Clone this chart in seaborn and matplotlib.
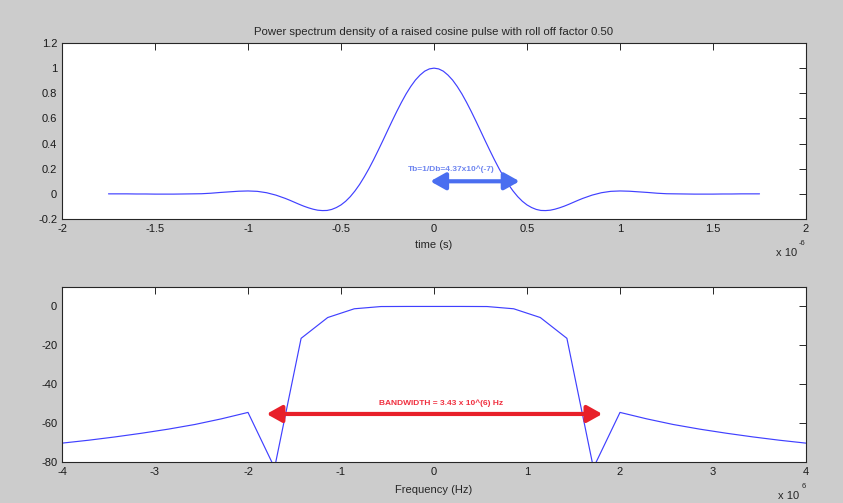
import matplotlib
matplotlib.use("Agg")
import matplotlib.pyplot as plt
import seaborn as sns
import pandas as pd

# ---------------- data ----------------
time_us = [-1.75, -1.70, -1.65, -1.60, -1.55, -1.50, -1.45, -1.40, -1.35, -1.30,
           -1.25, -1.20, -1.15, -1.10, -1.05, -1.00, -0.95, -0.90, -0.85, -0.80,
           -0.775, -0.75, -0.725, -0.70, -0.675, -0.65, -0.625, -0.60, -0.575, -0.55,
           -0.525, -0.50, -0.475, -0.45, -0.425, -0.40, -0.375, -0.35, -0.325, -0.30,
           -0.275, -0.25, -0.225, -0.20, -0.175, -0.15, -0.125, -0.10, -0.075, -0.05,
           -0.025, 0.00, 0.025, 0.05, 0.075, 0.10, 0.125, 0.15, 0.175, 0.20,
           0.225, 0.25, 0.275, 0.30, 0.325, 0.35, 0.375, 0.40, 0.425, 0.45,
           0.475, 0.50, 0.525, 0.55, 0.575, 0.60, 0.625, 0.65, 0.675, 0.70,
           0.725, 0.75, 0.775, 0.80, 0.85, 0.90, 0.95, 1.00, 1.05, 1.10,
           1.15, 1.20, 1.25, 1.30, 1.35, 1.40, 1.45, 1.50, 1.55, 1.60,
           1.65, 1.70, 1.75]
pulse = [0.000, 0.000, 0.000, -0.001, -0.001, -0.002, -0.002, -0.002, -0.001, 0.000,
         0.001, 0.005, 0.011, 0.016, 0.021, 0.023, 0.020, 0.009, -0.010, -0.036,
         -0.051, -0.067, -0.083, -0.098, -0.111, -0.122, -0.130, -0.133, -0.132, -0.124,
         -0.109, -0.088, -0.059, -0.022, 0.023, 0.075, 0.135, 0.200, 0.271, 0.346,
         0.423, 0.502, 0.580, 0.656, 0.728, 0.795, 0.854, 0.905, 0.945, 0.976,
         0.994, 1.000, 0.994, 0.976, 0.945, 0.905, 0.854, 0.795, 0.728, 0.656,
         0.580, 0.502, 0.423, 0.346, 0.271, 0.200, 0.135, 0.075, 0.023, -0.022,
         -0.059, -0.088, -0.109, -0.124, -0.132, -0.133, -0.130, -0.122, -0.111, -0.098,
         -0.083, -0.067, -0.051, -0.036, -0.010, 0.009, 0.020, 0.023, 0.021, 0.016,
         0.011, 0.005, 0.001, 0.000, -0.001, -0.002, -0.002, -0.002, -0.001, -0.001,
         0.000, 0.000, 0.000]

freq_mhz = [-4.000, -3.714, -3.429, -3.143, -2.857, -2.571, -2.286, -2.000, -1.714,
            -1.429, -1.143, -0.857, -0.571, -0.286, 0.000, 0.286, 0.571, 0.857,
            1.143, 1.429, 1.714, 2.000, 2.286, 2.571, 2.857, 3.143, 3.429, 3.714, 4.000]
psd_db = [-70.3, -68.8, -67.1, -65.2, -63.1, -60.7, -57.8, -54.5, -83.0,
          -16.4, -5.7, -1.2, -0.05, 0.0, 0.0, 0.0, -0.05, -1.2,
          -5.7, -16.4, -83.0, -54.5, -57.8, -60.7, -63.1, -65.2, -67.1, -68.8, -70.3]

top_xticks = [-2, -1.5, -1, -0.5, 0, 0.5, 1, 1.5, 2]
top_yticks = [-0.2, 0, 0.2, 0.4, 0.6, 0.8, 1, 1.2]
top_yticklabels = ["-0.2", "0", "0.2", "0.4", "0.6", "0.8", "1", "1.2"]
bot_xticks = [-4, -3, -2, -1, 0, 1, 2, 3, 4]
bot_yticks = [-80, -60, -40, -20, 0]

tb_arrow_x = [-0.02, 0.46]
tb_arrow_y = 0.10
tb_label_pos = (0.09, 0.195)
tb_label = "Tb=1/Db=4.37x10^(-7)"
bw_arrow_x = [-1.80, 1.81]
bw_arrow_y = -55.3
bw_label_pos = (0.08, -49.8)
bw_label = "BANDWIDTH = 3.43 x 10^(6) Hz"

title = "Power spectrum density of a raised cosine pulse with roll off factor 0.50"

# ---------------- style ----------------
sns.set_theme(style="white")
plt.rcParams["font.family"] = ["Liberation Sans", "DejaVu Sans"]

BG = "#cccccc"
LINE = "#4040ff"

fig = plt.figure(figsize=(8.43, 5.03), dpi=100, facecolor=BG)
ax1 = fig.add_axes([62 / 843, 1 - 219 / 503, 744 / 843, 176 / 503])
ax2 = fig.add_axes([62 / 843, 1 - 462 / 503, 744 / 843, 175 / 503])

df_t = pd.DataFrame({"t": time_us, "p": pulse})
df_f = pd.DataFrame({"f": freq_mhz, "db": psd_db})

sns.lineplot(data=df_t, x="t", y="p", ax=ax1, color=LINE, linewidth=0.85, sort=False)
sns.lineplot(data=df_f, x="f", y="db", ax=ax2, color=LINE, linewidth=0.85, sort=False)


def matlab_axes(ax):
    ax.set_facecolor("white")
    for s in ax.spines.values():
        s.set_color("#262626")
        s.set_linewidth(0.8)
    ax.tick_params(direction="in", length=5, width=0.7, colors="#262626",
                   labelsize=8, top=True, right=True, pad=3.5)
    ax.tick_params(labelcolor="#1a1a1a")


ARROW = "<|-|>,head_length=0.75,head_width=0.42"

# top axes
ax1.set_xlim(-2, 2)
ax1.set_ylim(-0.2, 1.2)
ax1.set_xticks(top_xticks)
ax1.set_xticklabels([("%g" % v) for v in top_xticks])
ax1.set_yticks(top_yticks)
ax1.set_yticklabels(top_yticklabels)
matlab_axes(ax1)
ax1.set_xlabel("time (s)", fontsize=8, labelpad=4.2)
ax1.set_ylabel("")
ax1.set_title(title, fontsize=8.2, pad=6)

ax1.annotate("", xy=(tb_arrow_x[1], tb_arrow_y), xytext=(tb_arrow_x[0], tb_arrow_y),
             arrowprops=dict(arrowstyle=ARROW, color="#4a6ef0", lw=3.0,
                             shrinkA=0, shrinkB=0, joinstyle="round", capstyle="round"))
ax1.text(tb_label_pos[0], tb_label_pos[1], tb_label, ha="center", va="center",
         fontsize=6, fontweight="bold", color="#6f86f0")

fig.text(776 / 843, 1 - 253 / 503, "x 10", fontsize=8, ha="left", va="center")
fig.text(799 / 843, 1 - 243 / 503, "-6", fontsize=5.5, ha="left", va="center")

# bottom axes
ax2.set_xlim(-4, 4)
ax2.set_ylim(-80, 10)
ax2.set_xticks(bot_xticks)
ax2.set_xticklabels([("%g" % v) for v in bot_xticks])
ax2.set_yticks(bot_yticks)
ax2.set_yticklabels([("%g" % v) for v in bot_yticks])
matlab_axes(ax2)
ax2.set_xlabel("Frequency (Hz)", fontsize=8, labelpad=5.6)
ax2.set_ylabel("")

ax2.annotate("", xy=(bw_arrow_x[1], bw_arrow_y), xytext=(bw_arrow_x[0], bw_arrow_y),
             arrowprops=dict(arrowstyle=ARROW, color="#e8202a", lw=3.0,
                             shrinkA=0, shrinkB=0, joinstyle="round", capstyle="round"))
ax2.text(bw_label_pos[0], bw_label_pos[1], bw_label, ha="center", va="center",
         fontsize=6, fontweight="bold", color="#f03040")

fig.text(778 / 843, 1 - 496 / 503, "x 10", fontsize=8, ha="left", va="center")
fig.text(802 / 843, 1 - 487 / 503, "6", fontsize=5.5, ha="left", va="center")

fig.savefig("out.png", dpi=100, facecolor=BG)
